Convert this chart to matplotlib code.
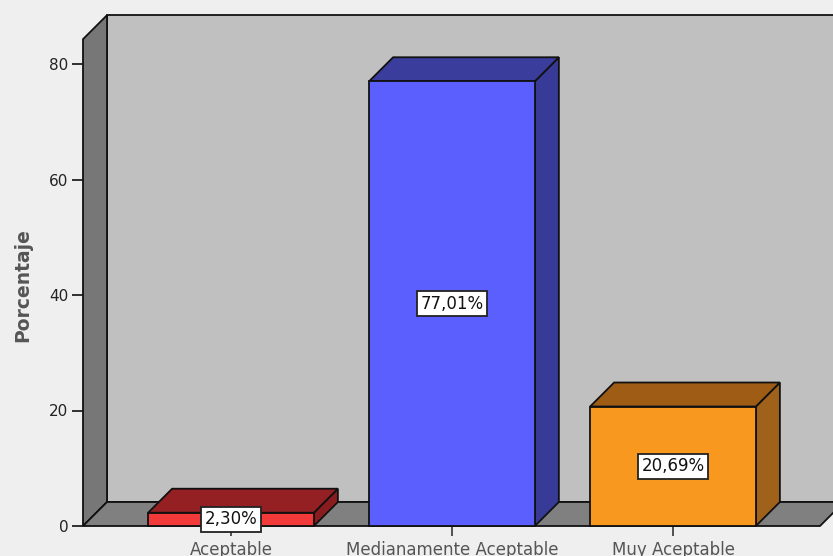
import matplotlib
matplotlib.use("Agg")
import matplotlib.pyplot as plt
from matplotlib.patches import Polygon
import numpy as np

categorias = ["Aceptable", "Medianamente Aceptable", "Muy Aceptable"]
porcentajes = [2.30, 77.01, 20.69]
etiquetas = ["2,30%", "77,01%", "20,69%"]
colores_frente = ["#f23a3a", "#5b5ffe", "#f8981f"]
colores_arriba = ["#952024", "#3a3d9c", "#9e5c14"]
colores_lado = ["#8a1c20", "#373a96", "#a0621a"]
yticks = [0, 20, 40, 60, 80]

plt.rcParams["font.family"] = ["DejaVu Sans"]

W, H = 833, 556
fig = plt.figure(figsize=(W / 100, H / 100), dpi=100, facecolor="#efefef")

# front plane: x0 at pixel 83, y=0 at pixel 526, 221 px per category, 5.775 px per unit
x0_px, y0_px = 83, 526
cat_px, unit_px = 221.0, 5.775
ax = fig.add_axes([x0_px / W, (H - y0_px) / H, (W - x0_px) / W, y0_px / H])
ax.patch.set_visible(False)
xmin = (x0_px - 231) / cat_px
ax.set_xlim(xmin, xmin + (W - x0_px) / cat_px)
ax.set_ylim(0, y0_px / unit_px)

dx = 24 / cat_px      # depth offset in category units
dy = 24 / unit_px     # depth offset in percent units
wall_top = 84.3
floor_right = (820 - 231) / cat_px
edge = dict(edgecolor="#111111", linewidth=1.3, joinstyle="miter")


def poly(pts, color, z):
    ax.add_patch(Polygon(pts, closed=True, facecolor=color, zorder=z,
                         clip_on=False, **edge))


# walls and floor
poly([(xmin + dx, dy), (xmin + 5, dy), (xmin + 5, wall_top + dy),
      (xmin + dx, wall_top + dy)], "#c0c0c0", 1)
poly([(xmin, 0), (xmin + dx, dy), (xmin + dx, wall_top + dy),
      (xmin, wall_top)], "#777777", 2)
poly([(xmin, 0), (floor_right, 0), (floor_right + dx, dy),
      (xmin + dx, dy)], "#808080", 2)

# 3D bars
half = 0.75 / 2
for i, v in enumerate(porcentajes):
    l, r = i - half, i + half
    poly([(r, 0), (r + dx, dy), (r + dx, v + dy), (r, v)], colores_lado[i], 3)
    poly([(l, v), (r, v), (r + dx, v + dy), (l + dx, v + dy)], colores_arriba[i], 3)
    poly([(l, 0), (r, 0), (r, v), (l, v)], colores_frente[i], 4)
    ax.text(i, v / 2, etiquetas[i], ha="center", va="center", fontsize=12,
            color="#111111", zorder=6,
            bbox=dict(boxstyle="square,pad=0.22", facecolor="white",
                      edgecolor="#222222", linewidth=1.3))

for s in ax.spines.values():
    s.set_visible(False)
ax.set_yticks(yticks)
ax.set_yticklabels([str(t) for t in yticks])
ax.set_xticks(range(len(categorias)))
ax.set_xticklabels(categorias)
ax.tick_params(axis="y", direction="out", length=8, width=1.3, color="#222222",
               labelsize=11, labelcolor="#222222", pad=2.5)
ax.tick_params(axis="x", direction="out", length=7.5, width=1.3, color="#444444",
               labelsize=12, labelcolor="#555555", pad=3.5)
ax.set_ylabel("Porcentaje", fontsize=13.5, fontweight="bold", color="#555555")
ax.yaxis.set_label_coords(-0.068, 1 - 285 / y0_px)

fig.savefig("out.png", dpi=100, facecolor=fig.get_facecolor())
